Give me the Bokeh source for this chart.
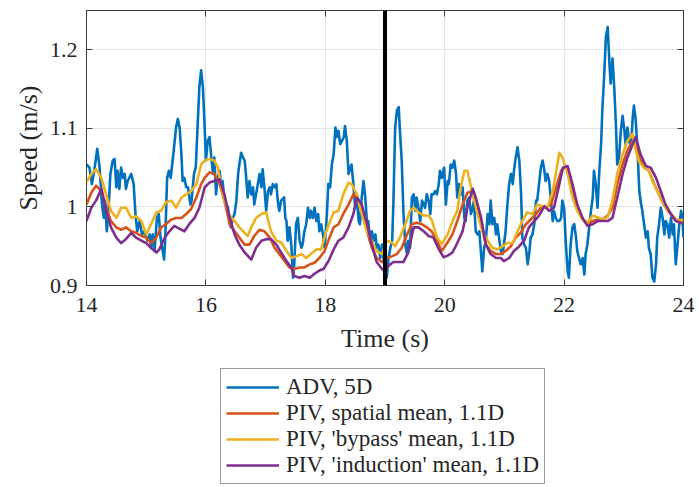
from bokeh.plotting import figure
from bokeh.layouts import column
from bokeh.models import (LinearAxis, FixedTicker, CustomJSTickFormatter, Legend,
                          LegendItem, Range1d, Span)
from bokeh.embed import file_html
from bokeh.resources import INLINE

# ---------------- data ----------------
adv_t = [14.00, 14.05, 14.09, 14.13, 14.18, 14.22, 14.26, 14.29, 14.31, 14.34, 14.37, 14.40, 14.44, 14.47,
         14.50, 14.52, 14.55, 14.58, 14.61, 14.64, 14.66, 14.69, 14.75, 14.79, 14.82, 14.85, 14.89, 14.93,
         14.97, 15.02, 15.06, 15.08, 15.11, 15.14, 15.18, 15.21, 15.24, 15.26, 15.30, 15.32, 15.35, 15.38,
         15.41, 15.43, 15.46, 15.50, 15.53, 15.56, 15.59, 15.61, 15.64, 15.67, 15.70, 15.74, 15.76, 15.80,
         15.83, 15.86, 15.89, 15.92, 15.95, 15.98, 16.00, 16.03, 16.06, 16.09, 16.12, 16.14, 16.17, 16.19,
         16.23, 16.26, 16.28, 16.31, 16.34, 16.37, 16.40, 16.42, 16.45, 16.48, 16.51, 16.54, 16.56, 16.59,
         16.62, 16.65, 16.67, 16.70, 16.73, 16.76, 16.79, 16.81, 16.84, 16.87, 16.90, 16.93, 16.95, 16.98,
         17.01, 17.04, 17.07, 17.09, 17.12, 17.15, 17.18, 17.21, 17.23, 17.26, 17.31, 17.33, 17.35, 17.37,
         17.40, 17.43, 17.46, 17.48, 17.51, 17.54, 17.57, 17.60, 17.62, 17.65, 17.68, 17.71, 17.74, 17.76,
         17.79, 17.82, 17.85, 17.88, 17.90, 17.93, 17.96, 17.99, 18.03, 18.05, 18.08, 18.11, 18.14, 18.17,
         18.19, 18.22, 18.25, 18.28, 18.31, 18.33, 18.36, 18.39, 18.42, 18.44, 18.47, 18.50, 18.53, 18.56,
         18.58, 18.61, 18.64, 18.67, 18.70, 18.72, 18.75, 18.78, 18.81, 18.84, 18.86, 18.89, 18.92, 18.95,
         18.98, 19.03, 19.06, 19.09, 19.12, 19.14, 19.17, 19.20, 19.23, 19.25, 19.28, 19.31, 19.34, 19.37,
         19.39, 19.42, 19.45, 19.48, 19.51, 19.53, 19.56, 19.59, 19.62, 19.65, 19.67, 19.70, 19.73, 19.76,
         19.78, 19.81, 19.84, 19.87, 19.90, 19.92, 19.95, 19.99, 20.02, 20.05, 20.07, 20.10, 20.13, 20.16,
         20.19, 20.21, 20.24, 20.27, 20.30, 20.33, 20.35, 20.38, 20.41, 20.44, 20.47, 20.49, 20.52, 20.55,
         20.58, 20.61, 20.63, 20.66, 20.69, 20.72, 20.75, 20.77, 20.80, 20.83, 20.86, 20.88, 20.91, 20.94,
         20.97, 21.00, 21.02, 21.05, 21.08, 21.11, 21.14, 21.16, 21.19, 21.22, 21.25, 21.28, 21.30, 21.33,
         21.36, 21.39, 21.42, 21.44, 21.47, 21.50, 21.53, 21.55, 21.58, 21.61, 21.64, 21.67, 21.69, 21.72,
         21.75, 21.78, 21.81, 21.83, 21.86, 21.89, 21.92, 21.95, 21.97, 22.00, 22.03, 22.06, 22.08, 22.11,
         22.14, 22.17, 22.20, 22.22, 22.25, 22.28, 22.31, 22.34, 22.36, 22.39, 22.42, 22.45, 22.48, 22.50,
         22.53, 22.56, 22.59, 22.62, 22.64, 22.67, 22.70, 22.73, 22.76, 22.78, 22.81, 22.84, 22.87, 22.89,
         22.92, 22.95, 22.98, 23.01, 23.03, 23.06, 23.09, 23.12, 23.15, 23.17, 23.20, 23.23, 23.26, 23.29,
         23.31, 23.34, 23.37, 23.40, 23.42, 23.45, 23.48, 23.51, 23.54, 23.56, 23.59, 23.62, 23.65, 23.68,
         23.70, 23.73, 23.76, 23.79, 23.82, 23.84, 23.87, 23.90, 23.93, 23.96, 23.98, 24.00]
adv_v = [1.054, 1.050, 1.029, 1.046, 1.074, 1.050, 1.003, 0.986, 1.008, 0.969, 0.999, 1.042, 1.059, 1.061,
         1.025, 1.046, 1.023, 1.050, 1.037, 1.042, 1.023, 1.033, 1.042, 1.029, 0.991, 0.969, 0.982, 0.965,
         0.969, 0.957, 0.965, 0.948, 0.965, 0.944, 0.986, 0.991, 0.961, 0.952, 0.933, 0.961, 1.037, 1.046,
         1.037, 1.050, 1.071, 1.101, 1.112, 1.101, 1.067, 1.033, 1.037, 1.025, 1.025, 1.003, 1.008, 1.042,
         1.050, 1.101, 1.152, 1.174, 1.152, 1.101, 1.059, 1.084, 1.089, 1.063, 1.042, 1.063, 1.016, 1.033,
         1.046, 1.025, 1.033, 1.008, 1.003, 0.999, 0.978, 0.974, 0.986, 0.991, 1.008, 1.042, 1.054, 1.069,
         1.063, 1.059, 1.042, 1.012, 1.033, 1.016, 1.025, 1.003, 1.016, 1.029, 1.042, 1.025, 1.048, 1.025,
         0.995, 1.020, 1.025, 1.016, 1.029, 1.025, 1.029, 1.003, 0.995, 1.008, 1.012, 0.986, 0.982, 0.957,
         0.974, 0.952, 0.910, 0.927, 0.978, 0.986, 0.957, 0.948, 0.952, 0.969, 0.978, 0.999, 0.986, 0.995,
         0.986, 0.999, 0.982, 0.991, 0.969, 0.978, 0.965, 0.948, 0.995, 1.029, 1.025, 1.054, 1.067, 1.101,
         1.089, 1.097, 1.080, 1.084, 1.089, 1.103, 1.084, 1.042, 1.050, 1.054, 1.029, 0.999, 1.008, 0.982,
         0.978, 1.012, 1.033, 1.012, 0.978, 0.982, 0.957, 0.969, 0.957, 0.965, 0.948, 0.952, 0.935, 0.952,
         0.931, 0.910, 0.935, 0.948, 0.957, 1.003, 1.101, 1.123, 1.127, 1.097, 1.059, 0.991, 0.952, 0.940,
         0.957, 0.948, 1.012, 1.016, 0.995, 1.012, 0.999, 0.982, 1.008, 1.003, 0.999, 1.016, 1.008, 0.991,
         1.016, 1.016, 1.020, 1.016, 1.029, 1.046, 1.037, 1.050, 1.003, 1.033, 1.029, 1.054, 1.050, 1.059,
         1.042, 1.012, 1.029, 1.016, 1.025, 0.986, 0.982, 1.008, 1.012, 0.991, 0.999, 1.008, 0.969, 0.965,
         0.969, 0.940, 0.918, 0.948, 0.957, 0.991, 0.978, 1.008, 0.978, 0.986, 0.965, 0.978, 0.961, 0.944,
         0.940, 0.957, 0.969, 1.003, 1.029, 1.042, 1.029, 1.046, 1.063, 1.076, 1.059, 1.016, 0.961, 0.952,
         0.948, 0.927, 0.944, 0.961, 0.965, 0.978, 1.008, 1.008, 1.029, 1.050, 1.059, 1.046, 1.033, 1.042,
         1.033, 1.008, 0.982, 0.995, 0.986, 0.982, 0.982, 0.986, 1.008, 0.999, 0.952, 0.918, 0.910, 0.952,
         0.974, 0.978, 0.961, 0.944, 0.935, 0.927, 0.935, 0.914, 0.940, 0.952, 0.974, 0.995, 1.012, 1.046,
         1.029, 0.999, 1.046, 1.080, 1.123, 1.165, 1.216, 1.229, 1.182, 1.157, 1.189, 1.152, 1.101, 1.054,
         1.063, 1.097, 1.116, 1.097, 1.080, 1.101, 1.084, 1.076, 1.114, 1.129, 1.110, 1.072, 1.020, 1.003,
         0.995, 0.978, 0.961, 0.969, 0.948, 0.940, 0.910, 0.905, 0.927, 0.961, 0.978, 0.999, 0.986, 0.965,
         0.982, 0.978, 0.961, 0.986, 0.965, 0.978, 0.927, 0.952, 0.978, 0.995, 0.986, 0.961]

sp_t = [14.00, 14.08, 14.16, 14.25, 14.33, 14.41, 14.50, 14.58, 14.66, 14.75, 14.83, 14.92, 15.00, 15.08,
        15.17, 15.25, 15.33, 15.42, 15.50, 15.59, 15.67, 15.75, 15.84, 15.92, 15.98, 16.06, 16.14, 16.23,
        16.31, 16.40, 16.48, 16.56, 16.65, 16.73, 16.81, 16.90, 16.98, 17.07, 17.15, 17.23, 17.32, 17.40,
        17.48, 17.57, 17.65, 17.74, 17.82, 17.90, 17.99, 18.06, 18.14, 18.22, 18.30, 18.39, 18.47, 18.53,
        18.61, 18.70, 18.78, 18.86, 18.95, 19.03, 19.11, 19.20, 19.28, 19.37, 19.45, 19.53, 19.62, 19.70,
        19.78, 19.87, 19.95, 20.05, 20.13, 20.21, 20.30, 20.38, 20.46, 20.52, 20.61, 20.69, 20.77, 20.86,
        20.94, 21.02, 21.11, 21.19, 21.27, 21.36, 21.44, 21.53, 21.61, 21.69, 21.78, 21.86, 21.95, 22.03,
        22.06, 22.14, 22.22, 22.31, 22.39, 22.48, 22.56, 22.64, 22.73, 22.81, 22.89, 22.98, 23.06, 23.15,
        23.20, 23.26, 23.34, 23.42, 23.51, 23.59, 23.67, 23.76, 23.84, 23.92, 24.00]
sp_v = [1.003, 1.018, 1.027, 1.020, 0.999, 0.982, 0.974, 0.971, 0.974, 0.969, 0.967, 0.963, 0.961, 0.954,
        0.961, 0.974, 0.978, 0.984, 0.986, 0.986, 0.991, 0.997, 1.012, 1.029, 1.037, 1.044, 1.042, 1.029,
        1.008, 0.978, 0.969, 0.961, 0.952, 0.952, 0.963, 0.971, 0.969, 0.961, 0.948, 0.940, 0.931, 0.923,
        0.921, 0.923, 0.923, 0.927, 0.929, 0.935, 0.944, 0.959, 0.974, 0.978, 0.991, 1.003, 1.016, 1.012,
        0.995, 0.969, 0.948, 0.935, 0.930, 0.935, 0.937, 0.940, 0.948, 0.965, 0.978, 0.980, 0.978, 0.974,
        0.969, 0.957, 0.944, 0.955, 0.965, 0.982, 1.003, 1.018, 1.020, 1.003, 0.978, 0.952, 0.944, 0.940,
        0.940, 0.944, 0.950, 0.961, 0.967, 0.978, 0.984, 0.991, 0.999, 0.999, 1.003, 1.023, 1.046, 1.052,
        1.046, 1.020, 0.999, 0.984, 0.978, 0.982, 0.984, 0.984, 0.989, 0.999, 1.029, 1.054, 1.072, 1.084,
        1.080, 1.063, 1.050, 1.046, 1.029, 1.016, 1.003, 0.993, 0.986, 0.982, 0.980]

by_t = [14.00, 14.08, 14.16, 14.25, 14.33, 14.41, 14.50, 14.58, 14.66, 14.75, 14.83, 14.92, 15.00, 15.08,
        15.17, 15.25, 15.33, 15.42, 15.50, 15.59, 15.67, 15.75, 15.84, 15.92, 15.98, 16.06, 16.14, 16.20,
        16.26, 16.31, 16.40, 16.48, 16.56, 16.65, 16.70, 16.76, 16.84, 16.93, 17.01, 17.09, 17.18, 17.26,
        17.35, 17.43, 17.51, 17.60, 17.68, 17.76, 17.85, 17.93, 18.00, 18.06, 18.14, 18.22, 18.30, 18.39,
        18.44, 18.53, 18.61, 18.70, 18.78, 18.86, 18.95, 19.03, 19.11, 19.17, 19.25, 19.34, 19.42, 19.48,
        19.56, 19.65, 19.73, 19.79, 19.87, 19.95, 20.05, 20.13, 20.21, 20.27, 20.33, 20.38, 20.47, 20.55,
        20.63, 20.72, 20.80, 20.88, 20.97, 21.05, 21.14, 21.22, 21.30, 21.38, 21.47, 21.55, 21.64, 21.72,
        21.81, 21.86, 21.92, 21.97, 22.06, 22.14, 22.22, 22.31, 22.39, 22.48, 22.56, 22.64, 22.73, 22.81,
        22.89, 22.98, 23.06, 23.15, 23.20, 23.26, 23.34, 23.42, 23.48, 23.56, 23.65, 23.73, 23.82, 23.90,
        24.00]
by_v = [1.031, 1.042, 1.048, 1.037, 1.016, 0.995, 0.986, 0.999, 0.999, 0.986, 0.988, 0.982, 0.965, 0.978,
        0.993, 0.995, 1.006, 1.008, 0.999, 1.012, 1.016, 1.020, 1.029, 1.054, 1.059, 1.061, 1.059, 1.050,
        1.025, 1.008, 0.989, 0.982, 0.974, 0.967, 0.963, 0.974, 0.986, 0.991, 0.993, 0.969, 0.957, 0.955,
        0.944, 0.935, 0.937, 0.940, 0.935, 0.940, 0.946, 0.946, 0.965, 0.978, 0.993, 0.995, 1.016, 1.031,
        1.029, 1.016, 0.991, 0.969, 0.957, 0.944, 0.940, 0.957, 0.955, 0.950, 0.961, 0.978, 0.995, 0.999,
        0.993, 0.989, 0.989, 0.982, 0.961, 0.953, 0.965, 0.982, 0.995, 1.025, 1.046, 1.046, 1.016, 0.991,
        0.969, 0.957, 0.948, 0.946, 0.950, 0.954, 0.954, 0.969, 0.982, 0.993, 0.991, 1.003, 1.001, 0.999,
        1.020, 1.042, 1.069, 1.063, 1.042, 1.012, 0.995, 0.984, 0.980, 0.989, 0.987, 0.984, 0.987, 1.008,
        1.042, 1.067, 1.084, 1.093, 1.072, 1.057, 1.050, 1.046, 1.033, 1.020, 1.008, 0.995, 0.989, 0.982,
        0.984]

ind_t = [14.00, 14.08, 14.16, 14.25, 14.33, 14.41, 14.50, 14.58, 14.66, 14.75, 14.83, 14.92, 15.00, 15.08,
         15.17, 15.22, 15.31, 15.39, 15.47, 15.56, 15.64, 15.72, 15.81, 15.89, 15.98, 16.06, 16.14, 16.23,
         16.31, 16.40, 16.48, 16.56, 16.65, 16.76, 16.84, 16.93, 17.01, 17.09, 17.18, 17.26, 17.35, 17.43,
         17.48, 17.57, 17.65, 17.74, 17.82, 17.90, 17.97, 18.06, 18.14, 18.22, 18.30, 18.39, 18.47, 18.53,
         18.61, 18.70, 18.78, 18.86, 18.95, 19.00, 19.06, 19.14, 19.22, 19.31, 19.39, 19.48, 19.56, 19.65,
         19.73, 19.81, 19.89, 19.98, 20.05, 20.13, 20.21, 20.30, 20.38, 20.47, 20.52, 20.61, 20.69, 20.77,
         20.86, 20.94, 20.99, 21.08, 21.16, 21.25, 21.33, 21.41, 21.50, 21.58, 21.67, 21.75, 21.83, 21.92,
         21.98, 22.06, 22.14, 22.22, 22.31, 22.39, 22.48, 22.56, 22.64, 22.73, 22.81, 22.89, 22.98, 23.06,
         23.15, 23.20, 23.28, 23.37, 23.45, 23.54, 23.62, 23.70, 23.79, 23.87, 23.95, 24.00]
ind_v = [0.982, 0.999, 1.008, 1.023, 0.995, 0.974, 0.961, 0.954, 0.959, 0.967, 0.961, 0.957, 0.954, 0.948,
         0.942, 0.946, 0.961, 0.969, 0.976, 0.972, 0.969, 0.978, 0.986, 0.999, 1.025, 1.031, 1.033, 1.035,
         1.016, 0.986, 0.965, 0.952, 0.942, 0.933, 0.948, 0.957, 0.959, 0.959, 0.952, 0.942, 0.931, 0.923,
         0.912, 0.910, 0.912, 0.910, 0.915, 0.919, 0.921, 0.932, 0.946, 0.957, 0.961, 0.974, 0.991, 1.012,
         1.003, 0.978, 0.952, 0.930, 0.921, 0.918, 0.925, 0.930, 0.930, 0.930, 0.942, 0.974, 0.974, 0.969,
         0.963, 0.961, 0.948, 0.936, 0.938, 0.942, 0.954, 0.969, 0.999, 1.023, 1.012, 0.986, 0.952, 0.940,
         0.935, 0.935, 0.931, 0.935, 0.944, 0.950, 0.957, 0.974, 0.982, 0.989, 1.001, 0.995, 0.999, 1.029,
         1.050, 1.052, 1.029, 1.003, 0.986, 0.976, 0.978, 0.982, 0.982, 0.982, 0.986, 1.012, 1.042, 1.063,
         1.080, 1.089, 1.067, 1.052, 1.050, 1.037, 1.020, 1.003, 0.991, 0.982, 0.980, 0.979]

marker_time = 19.0
x_ticks = [14, 16, 18, 20, 22, 24]
y_ticks = [0.9, 1.0, 1.1, 1.2]
labels = ["ADV, 5D", "PIV, spatial mean, 1.1D", "PIV, 'bypass' mean, 1.1D", "PIV, 'induction' mean, 1.1D"]
colors = ["#0072BD", "#D95319", "#EDB120", "#7E2F8E"]

FONT = "'Liberation Serif', 'Times New Roman', serif"
TXT = "#262626"
AX = "#3a3a3a"
LW = 2.6

p = figure(width=699, height=365, output_backend="svg", toolbar_location=None,
           x_range=Range1d(14, 24), y_range=Range1d(0.9, 1.25),
           min_border_left=86, min_border_right=16, min_border_top=10, min_border_bottom=80,
           x_axis_location=None, y_axis_location=None)
p.outline_line_color = AX
p.outline_line_width = 1
p.background_fill_color = "white"
p.border_fill_color = "white"

fmt = CustomJSTickFormatter(code="var s = tick.toFixed(1); return s.endsWith('.0') ? s.slice(0, -2) : s;")
blank = CustomJSTickFormatter(code="return '';")

xb = LinearAxis(ticker=FixedTicker(ticks=x_ticks), axis_label="Time (s)")
yl = LinearAxis(ticker=FixedTicker(ticks=y_ticks), axis_label="Speed (m/s)", formatter=fmt)
xt = LinearAxis(ticker=FixedTicker(ticks=x_ticks), formatter=blank)
yr = LinearAxis(ticker=FixedTicker(ticks=y_ticks), formatter=blank)
for ax in (xb, yl, xt, yr):
    ax.major_tick_in = 6
    ax.major_tick_out = 0
    ax.minor_tick_line_color = None
    ax.major_tick_line_color = AX
    ax.axis_line_color = None
    ax.major_label_text_font = FONT
    ax.major_label_text_font_size = "22px"
    ax.major_label_text_color = TXT
    ax.axis_label_text_font = FONT
    ax.axis_label_text_font_size = "26px"
    ax.axis_label_text_font_style = "normal"
    ax.axis_label_text_color = TXT
for ax in (xt, yr):
    ax.major_label_standoff = 0
xb.major_label_standoff = 12
xb.axis_label_standoff = 9
yl.major_label_standoff = 9
yl.axis_label_standoff = 4
p.add_layout(xb, "below")
p.add_layout(yl, "left")
p.add_layout(xt, "above")
p.add_layout(yr, "right")

p.xgrid.ticker = FixedTicker(ticks=x_ticks)
p.ygrid.ticker = FixedTicker(ticks=y_ticks)
p.xgrid.grid_line_color = "#e3e3e3"
p.ygrid.grid_line_color = "#e3e3e3"

series = [(adv_t, adv_v), (sp_t, sp_v), (by_t, by_v), (ind_t, ind_v)]
for (t, v), c in zip(series, colors):
    p.line(t, v, line_color=c, line_width=LW, line_join="round")

p.add_layout(Span(location=marker_time, dimension="height", line_color="black", line_width=4))

# legend panel: a second figure below; its lines use the same series but lie outside
# its (0..1) ranges, so only their legend keys are visible
leg_fig = figure(width=699, height=122, output_backend="svg", toolbar_location=None,
                 x_range=Range1d(0, 1), y_range=Range1d(0, 1),
                 min_border=0, x_axis_location=None, y_axis_location=None)
leg_fig.outline_line_color = None
leg_fig.xgrid.visible = False
leg_fig.ygrid.visible = False
leg_fig.background_fill_color = "white"
leg_fig.border_fill_color = "white"
proxies = [leg_fig.line(t, v, line_color=c, line_width=LW) for (t, v), c in zip(series, colors)]

legend = Legend(items=[LegendItem(label=l, renderers=[r]) for l, r in zip(labels, proxies)],
                location=(134, 3), orientation="vertical",
                label_text_font=FONT, label_text_font_size="23px", label_text_color=TXT,
                label_text_line_height=1.0,
                glyph_width=53, glyph_height=24, label_height=24, label_standoff=7,
                spacing=0, padding=5, margin=0,
                border_line_color=AX, border_line_width=1,
                background_fill_color="white", background_fill_alpha=1.0)
leg_fig.add_layout(legend, "center")

layout = column(p, leg_fig, spacing=0)
open("out.html", "w").write(file_html(layout, INLINE))
